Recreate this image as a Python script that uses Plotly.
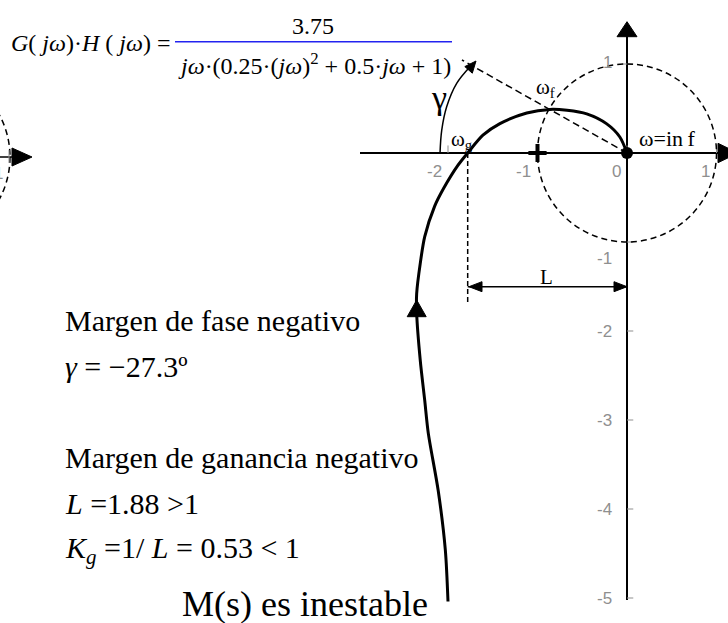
import plotly.graph_objects as go

# ---------------- data ----------------
# Nyquist curve of G(jw)H(jw), from w -> 0+ (bottom) to w -> inf (origin)
nyq_re = [-2.00, -2.03, -2.11, -2.22, -2.26, -2.31, -2.35, -2.35, -2.31, -2.26,
          -2.15, -2.05, -1.89, -1.78, -1.61, -1.42, -1.12, -0.86, -0.67, -0.45,
          -0.23, -0.08, 0.0]
nyq_im = [-5.04, -4.46, -3.79, -3.15, -2.78, -2.33, -1.80, -1.58, -1.24, -0.94,
          -0.60, -0.40, -0.14, 0.0, 0.20, 0.33, 0.45, 0.49, 0.48, 0.44,
          0.33, 0.18, 0.0]

# gain-crossover (real-axis crossing) and phase-margin ray end point
gain_cross_re = -1.78
ray_end = (-1.844, 1.045)
# phase margin arc (gamma)
arc_re = [-2.089, -2.07, -2.015, -1.903, -1.754]
arc_im = [0.0, 0.258, 0.52, 0.783, 0.97]

critical_point = (-1.0, 0.0)
x_ticks = [-2, -1, 0, 1]
x_tick_labels = ["-2", "-1", "0", "1"]
y_ticks = [1, -1, -2, -3, -4, -5]
y_tick_labels = ["1", "-1", "-2", "-3", "-4", "-5"]

# ---------------- geometry helpers (page pixel -> data) ----------------
W, H = 728, 623
OX, OY = 627.0, 153.0
SX, SY = 89.5, 89.0


def px(u):
    return (u - OX) / SX


def py(v):
    return (OY - v) / SY


def tri(points):
    p = [f"{px(u)},{py(v)}" for u, v in points]
    return dict(type="path", xref="x", yref="y",
                path="M " + " L ".join(p) + " Z",
                fillcolor="black", line=dict(color="black", width=1))


SERIF = "Liberation Serif, Times New Roman, serif"
SANS = "Liberation Sans, Arial, sans-serif"
GREY = "#8f8f8f"

fig = go.Figure()

# axes lines
fig.add_trace(go.Scatter(x=[px(360), px(720)], y=[0, 0], mode="lines",
                         line=dict(color="black", width=2), hoverinfo="skip"))
fig.add_trace(go.Scatter(x=[0, 0], y=[py(600), py(34)], mode="lines",
                         line=dict(color="black", width=2), hoverinfo="skip"))

# tick marks
tx, ty = [], []
for t in x_ticks:
    tx += [t, t, None]
    ty += [0, 0.085, None]
for t in y_ticks:
    tx += [-0.05 if t == 1 else 0, 0.07, None]
    ty += [t, t, None]
fig.add_trace(go.Scatter(x=tx, y=ty, mode="lines", line=dict(color=GREY, width=1),
                         hoverinfo="skip"))

# Nyquist curve
fig.add_trace(go.Scatter(x=nyq_re, y=nyq_im, mode="lines",
                         line=dict(color="black", width=3, shape="spline", smoothing=0.8),
                         hoverinfo="skip"))

# phase-margin ray and gain-margin dashed vertical
fig.add_trace(go.Scatter(x=[0, ray_end[0]], y=[0, ray_end[1]], mode="lines",
                         line=dict(color="black", width=1.5, dash="7px,4px"),
                         hoverinfo="skip"))
fig.add_trace(go.Scatter(x=[gain_cross_re, gain_cross_re], y=[0, py(305)], mode="lines",
                         line=dict(color="black", width=1.5, dash="5px,3px"),
                         hoverinfo="skip"))
# L dimension line
fig.add_trace(go.Scatter(x=[gain_cross_re, 0], y=[py(286.7), py(286.7)], mode="lines",
                         line=dict(color="black", width=1.5), hoverinfo="skip"))

# gamma arc
fig.add_trace(go.Scatter(x=arc_re, y=arc_im, mode="lines",
                         line=dict(color="black", width=1.5, shape="spline"),
                         hoverinfo="skip"))

# critical point and origin dot
fig.add_trace(go.Scatter(x=[critical_point[0]], y=[critical_point[1]], mode="markers",
                         marker=dict(symbol="cross-thin", size=13,
                                     line=dict(color="black", width=4)),
                         hoverinfo="skip"))
fig.add_trace(go.Scatter(x=[0], y=[0], mode="markers",
                         marker=dict(symbol="circle", size=12, color="black"),
                         hoverinfo="skip"))

shapes = [
    # unit circle
    dict(type="circle", xref="x", yref="y", x0=-1, y0=-1, x1=1, y1=1,
         line=dict(color="black", width=1.5, dash="6px,4px")),
    # fraction bar of the formula
    dict(type="line", xref="x", yref="y", x0=px(175), x1=px(452), y0=py(41.7), y1=py(41.7),
         line=dict(color="#2323f0", width=1.5)),
    # arrowheads
    tri([(627, 21.7), (637, 36.7), (617, 36.7)]),            # imaginary axis
    tri([(738, 153), (718, 143.3), (718, 162.7)]),           # real axis
    tri([(416.7, 300), (426.2, 316.7), (407.2, 316.7)]),     # curve direction
    tri([(469, 286.7), (482, 281.7), (482, 291.7)]),         # L left
    tri([(627, 286.7), (614, 281.7), (614, 291.7)]),         # L right
    tri([(476, 61), (472.3, 73.2), (464.8, 66.6)]),          # gamma arc
    # fragment of neighbouring figure (left edge)
    dict(type="circle", xref="x", yref="y", x0=px(-168), x1=px(10), y0=py(246), y1=py(68),
         line=dict(color="black", width=1.5, dash="6px,4px")),
    dict(type="line", xref="x", yref="y", x0=px(0), x1=px(13), y0=py(157), y1=py(157),
         line=dict(color="black", width=1.5)),
    dict(type="line", xref="x", yref="y", x0=px(9), x1=px(9), y0=py(150), y1=py(163),
         line=dict(color=GREY, width=1)),
    tri([(12, 148), (32, 157), (12, 166)]),
]

annotations = []


def txt(text, x, y, size, family=SERIF, color="black", xanchor="center", yanchor="middle"):
    annotations.append(dict(text=text, x=x, y=y, xref="x", yref="y", showarrow=False,
                            font=dict(family=family, size=size, color=color),
                            xanchor=xanchor, yanchor=yanchor))


# tick labels
for t, lab in zip(x_ticks, x_tick_labels):
    txt(lab, t - 0.05, py(171), 17, SANS, GREY, xanchor="right")
y_lab_pos = {1: 62, -1: 258}
for t, lab in zip(y_ticks, y_tick_labels):
    yy = py(y_lab_pos[t]) if t in y_lab_pos else t
    txt(lab, px(614), yy, 17, SANS, GREY, xanchor="right")
txt("1", px(5), py(173), 17, SANS, GREY, xanchor="right")

# formula
txt("<i>G</i>( <i>jω</i>)·<i>H</i> ( <i>jω</i>) =", px(172), py(43), 24, xanchor="right")
txt("3.75", px(313), py(26), 24)
txt("<i>jω</i>·(0.25·(<i>jω</i>)<sup>2</sup> + 0.5·<i>jω</i> + 1)", px(314), py(64), 24)

# plot labels
txt("γ", px(439), py(97), 34)
txt("ω<sub>g</sub>", px(462), py(140), 21)
txt("ω<sub>f</sub>", px(545), py(88), 21)
txt("ω=in\u2009f", px(637), py(138), 22, xanchor="left")
txt("L", px(546.5), py(276.5), 21)

# left text block
txt("Margen de fase negativo", px(63), py(320), 30, xanchor="left")
txt("<i>γ</i> = −27.3º", px(63), py(366), 30, xanchor="left")
txt("Margen de ganancia negativo", px(63), py(457), 30, xanchor="left")
txt("<i>L</i> =1.88 >1", px(63), py(503), 30, xanchor="left")
txt("<i>K</i><sub><i>g</i></sub> =1/ <i>L</i> = 0.53 < 1", px(63), py(550), 30, xanchor="left")
txt("M(s) es inestable", px(180), py(604), 36, xanchor="left")

fig.update_layout(
    width=W, height=H,
    margin=dict(l=0, r=0, t=0, b=0),
    paper_bgcolor="white", plot_bgcolor="white",
    showlegend=False,
    hovermode=False,
    xaxis=dict(range=[px(0), px(W)], visible=False, fixedrange=True),
    yaxis=dict(range=[py(H), py(0)], visible=False, fixedrange=True),
    shapes=shapes,
    annotations=annotations,
)

fig.write_html("out.html",
               config={"displayModeBar": False, "staticPlot": True},
               post_script="document.body.style.margin='0px';"
                           "document.body.style.overflow='hidden';")
